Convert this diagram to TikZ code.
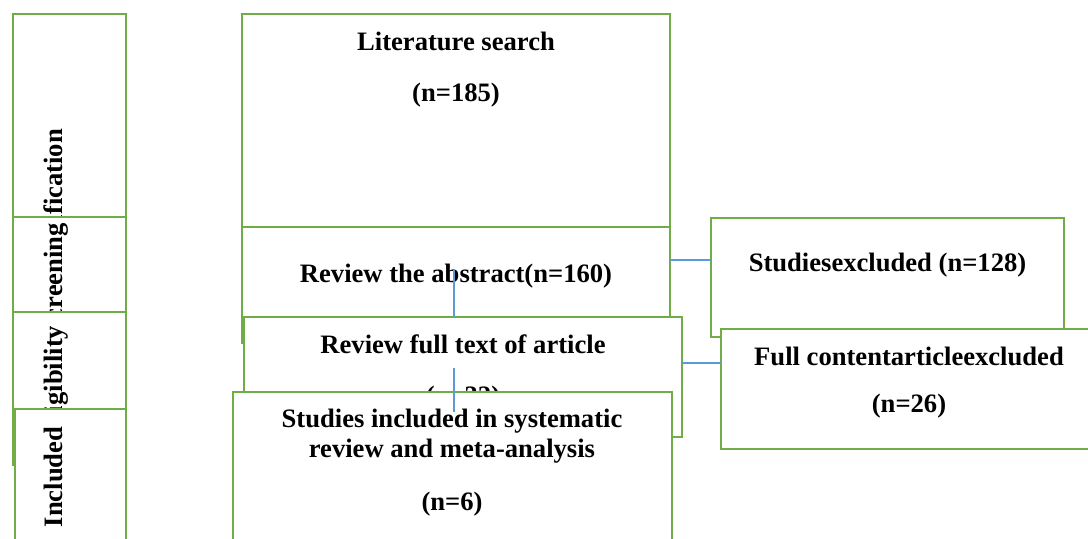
\documentclass[tikz,border=0pt]{standalone}
\usepackage{fontspec}
\setmainfont{Liberation Serif}
\usepackage{tikz}

\definecolor{boxgreen}{RGB}{112,173,71}
\definecolor{linkblue}{RGB}{91,155,213}

\begin{document}
\begin{tikzpicture}[x=0.5pt,y=-0.5pt]

	\tikzstyle stage box=[draw=boxgreen, line width=1.2pt, fill=white, inner sep=0pt, outer sep=0pt, anchor=north west];
	\tikzstyle flow text=[inner sep=0pt, anchor=base, font=\fontsize{13.3}{15}\selectfont\bfseries];
	\tikzstyle stage label=[flow text, rotate=90];
	\tikzstyle link lines=[draw=linkblue, line width=0.8pt];

	\useasboundingbox (0,0) rectangle (1088,539);

	% stages on the left
	\node[stage box, minimum width=56.5pt, minimum height=191pt] (ident) at (13,14) {};
	\node[stage label] (identT) at (62,206) {Identification};
	\node[stage box, minimum width=56.5pt, minimum height=59pt] (screen) at (13,217) {};
	\node[stage label] (screenT) at (62,279) {Screening};
	\node[stage box, minimum width=56.5pt, minimum height=76.5pt] (elig) at (13,312) {};
	\node[stage label] (eligT) at (62,382) {Eligibility};
	\node[stage box, minimum width=55.5pt, minimum height=80pt] (incl) at (15,409) {};
	\node[stage label] (inclT) at (62,477) {Included};

	% main flow
	\node[stage box, minimum width=214pt, minimum height=106.5pt] (search) at (242,14) {};
	\node[flow text] (searchT1) at (456,51) {Literature search};
	\node[flow text] (searchT2) at (456,102) {(n=185)};

	\node[stage box, minimum width=214pt, minimum height=58pt] (abstr) at (242,227) {};
	\node[flow text] (abstrT) at (456,283) {Review the abstract(n=160)};

	\node[stage box, minimum width=219pt, minimum height=60pt] (fulltext) at (244,317) {};
	\node[flow text] (fullT1) at (463,354) {Review full text of article};
	\node[flow text] (fullT2) at (463,405) {(n=32)};

	\node[stage box, minimum width=219.5pt, minimum height=85pt] (final) at (233,392) {};
	\node[flow text] (finalT1) at (452,428) {Studies included in systematic};
	\node[flow text] (finalT2) at (452,458) {review and meta-analysis};
	\node[flow text] (finalT3) at (452,511) {(n=6)};

	% exclusions
	\node[stage box, minimum width=176.5pt, minimum height=59.5pt] (exclA) at (711,218) {};
	\node[flow text] (exclAT) at (887.5,272) {Studiesexcluded (n=128)};

	\node[stage box, minimum width=188pt, minimum height=60pt] (exclB) at (721,329) {};
	\node[flow text] (exclBT1) at (909,366) {Full contentarticleexcluded};
	\node[flow text] (exclBT2) at (909,413) {(n=26)};

	% connectors
	\coordinate (lvlA) at (0,260);
	\coordinate (lvlB) at (0,363);
	\coordinate (stemA) at (454,270);
	\coordinate (stemB) at (454,368);
	\coordinate (stemBend) at (454,412);

	\draw[link lines] (abstr.east |- lvlA) -- (exclA.west |- lvlA);
	\draw[link lines] (fulltext.east |- lvlB) -- (exclB.west |- lvlB);
	\draw[link lines] (stemA) -- (stemA |- fulltext.north);
	\draw[link lines] (stemB) -- (stemBend);

\end{tikzpicture}
\end{document}
